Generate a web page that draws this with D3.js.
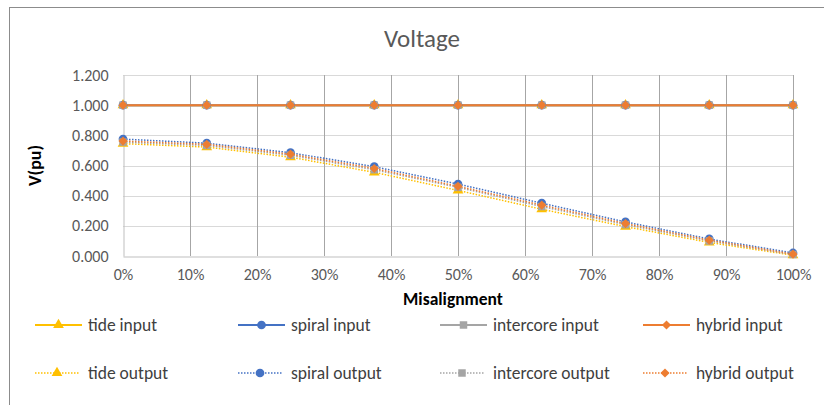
<!DOCTYPE html>
<html>
<head>
<meta charset="utf-8">
<script src="https://cdn.jsdelivr.net/npm/d3@7"></script>
<style>
  html, body { margin: 0; padding: 0; background: #fff; }
  svg { display: block; font-family: Calibri, Carlito, Lato, "Open Sans", sans-serif; }
</style>
</head>
<body>
<svg id="chart" width="824" height="405"></svg>
<script>
// Misalignment positions (fraction of full misalignment)
const misalignment = [0, 0.125, 0.25, 0.375, 0.5, 0.625, 0.75, 0.875, 1.0];

// Input voltages (pu) — constant across misalignment
const tideInput      = [1, 1, 1, 1, 1, 1, 1, 1, 1];
const spiralInput    = [1, 1, 1, 1, 1, 1, 1, 1, 1];
const intercoreInput = [1, 1, 1, 1, 1, 1, 1, 1, 1];
const hybridInput    = [1, 1, 1, 1, 1, 1, 1, 1, 1];

// Output voltages (pu)
const tideOutput      = [0.745, 0.722, 0.655, 0.555, 0.435, 0.310, 0.195, 0.090, 0.005];
const spiralOutput    = [0.775, 0.748, 0.685, 0.592, 0.477, 0.350, 0.226, 0.113, 0.020];
const intercoreOutput = [0.755, 0.733, 0.668, 0.572, 0.455, 0.328, 0.208, 0.100, 0.010];
const hybridOutput    = [0.762, 0.740, 0.675, 0.580, 0.462, 0.337, 0.215, 0.105, 0.012];

const yTicks = [0, 0.2, 0.4, 0.6, 0.8, 1.0, 1.2];
const xTicks = [0, 0.1, 0.2, 0.3, 0.4, 0.5, 0.6, 0.7, 0.8, 0.9, 1.0];

const series = [
  { name: "tide input",       values: tideInput,       color: "#FFC000", marker: "triangle", dashed: false },
  { name: "spiral input",     values: spiralInput,     color: "#4472C4", marker: "circle",   dashed: false },
  { name: "intercore input",  values: intercoreInput,  color: "#A5A5A5", marker: "square",   dashed: false },
  { name: "hybrid input",     values: hybridInput,     color: "#ED7D31", marker: "diamond",  dashed: false },
  { name: "tide output",      values: tideOutput,      color: "#FFC000", marker: "triangle", dashed: true },
  { name: "spiral output",    values: spiralOutput,    color: "#4472C4", marker: "circle",   dashed: true },
  { name: "intercore output", values: intercoreOutput, color: "#A5A5A5", marker: "square",   dashed: true },
  { name: "hybrid output",    values: hybridOutput,    color: "#ED7D31", marker: "diamond",  dashed: true }
];

const svg = d3.select("#chart");

// chart frame
svg.append("rect")
  .attr("x", 9.5).attr("y", 7.5)
  .attr("width", 830).attr("height", 420)
  .attr("fill", "#fff").attr("stroke", "#8c8c8c").attr("stroke-width", 1);

const plot = { left: 123, right: 793, top: 75, bottom: 256 };

const x = d3.scaleLinear().domain([0, 1]).range([plot.left, plot.right]);
const y = d3.scaleLinear().domain([0, 1.2]).range([plot.bottom, plot.top]);

// horizontal gridlines
svg.append("g")
  .selectAll("line")
  .data(yTicks.filter(d => d > 0))
  .join("line")
  .attr("x1", plot.left).attr("x2", plot.right)
  .attr("y1", d => Math.round(y(d)) + 0.5).attr("y2", d => Math.round(y(d)) + 0.5)
  .attr("stroke", "#d9d9d9").attr("stroke-width", 1);

// vertical gridlines
svg.append("g")
  .selectAll("line")
  .data(xTicks.filter(d => d > 0))
  .join("line")
  .attr("x1", d => Math.round(x(d)) + 0.5).attr("x2", d => Math.round(x(d)) + 0.5)
  .attr("y1", plot.top).attr("y2", plot.bottom)
  .attr("stroke", "#a6a6a6").attr("stroke-width", 1);

// y axis
const yAxis = d3.axisLeft(y).tickValues(yTicks).tickFormat(d3.format(".3f")).tickSize(0).tickPadding(15);
const gy = svg.append("g").attr("transform", `translate(${plot.left + 0.5},0)`).call(yAxis);
gy.select(".domain").attr("stroke", "#bfbfbf");
gy.selectAll("text").attr("font-size", 16).attr("fill", "#595959").attr("font-family", "Calibri, Carlito, Lato, sans-serif");

// x axis
const xAxis = d3.axisBottom(x).tickValues(xTicks).tickFormat(d3.format(".0%")).tickSize(0).tickPadding(12);
const gx = svg.append("g").attr("transform", `translate(0,${plot.bottom + 0.5})`).call(xAxis);
gx.select(".domain").attr("stroke", "#bfbfbf");
gx.selectAll("text").attr("font-size", 16).attr("fill", "#595959").attr("font-family", "Calibri, Carlito, Lato, sans-serif");

// title
svg.append("text")
  .attr("x", 422).attr("y", 47)
  .attr("text-anchor", "middle")
  .attr("font-size", 25).attr("fill", "#595959")
  .text("Voltage");

// axis titles
svg.append("text")
  .attr("x", 453).attr("y", 305)
  .attr("text-anchor", "middle")
  .attr("font-size", 17.5).attr("font-weight", "bold").attr("fill", "#000")
  .text("Misalignment");

svg.append("text")
  .attr("transform", `translate(41,${(plot.top + plot.bottom) / 2}) rotate(-90)`)
  .attr("text-anchor", "middle")
  .attr("font-size", 18).attr("font-weight", "bold").attr("fill", "#000")
  .text("V(pu)");

// marker shapes (the diamond is a square turned 45 degrees)
const symbolFor = {
  triangle: { gen: d3.symbol().type(d3.symbolTriangle).size(50), rot: 0 },
  circle:   { gen: d3.symbol().type(d3.symbolCircle).size(60),   rot: 0 },
  square:   { gen: d3.symbol().type(d3.symbolSquare).size(56),   rot: 0 },
  diamond:  { gen: d3.symbol().type(d3.symbolSquare).size(42),   rot: 45 }
};

const line = d3.line().x(d => x(d[0])).y(d => y(d[1]));

const seriesG = svg.append("g");
series.forEach(s => {
  const pts = misalignment.map((m, i) => [m, s.values[i]]);
  seriesG.append("path")
    .datum(pts)
    .attr("d", line)
    .attr("fill", "none")
    .attr("stroke", s.color)
    .attr("stroke-width", s.dashed ? 1.5 : 2)
    .attr("stroke-dasharray", s.dashed ? "1.5,1.5" : null);
});
series.forEach(s => {
  const pts = misalignment.map((m, i) => [m, s.values[i]]);
  const sym = symbolFor[s.marker];
  seriesG.append("g")
    .selectAll("path")
    .data(pts)
    .join("path")
    .attr("transform", d => `translate(${x(d[0])},${y(d[1])}) rotate(${sym.rot})`)
    .attr("d", sym.gen)
    .attr("fill", s.color);
});

// legend: two rows of four entries
const legendCols = [35, 238, 440, 643];
const legendRows = [325, 373];
const legend = svg.append("g");
series.forEach((s, i) => {
  const col = legendCols[i % 4];
  const row = legendRows[Math.floor(i / 4)];
  const sym = symbolFor[s.marker];
  const g = legend.append("g").attr("transform", `translate(${col},${row})`);
  g.append("line")
    .attr("x1", 0).attr("x2", s.dashed ? 44 : 47)
    .attr("y1", 0).attr("y2", 0)
    .attr("stroke", s.color)
    .attr("stroke-width", s.dashed ? 1.5 : 2)
    .attr("stroke-dasharray", s.dashed ? "1.5,1.5" : null);
  g.append("path")
    .attr("transform", `translate(${s.dashed ? 22 : 23.5},0) rotate(${sym.rot})`)
    .attr("d", sym.gen)
    .attr("fill", s.color);
  g.append("text")
    .attr("x", 53).attr("y", 6)
    .attr("font-size", 17.5).attr("fill", "#404040")
    .text(s.name);
});
</script>
</body>
</html>
